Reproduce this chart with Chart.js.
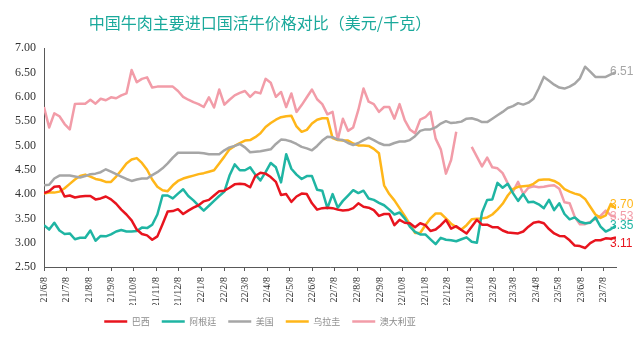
<!DOCTYPE html>
<html>
<head>
<meta charset="utf-8">
<script src="https://cdn.jsdelivr.net/npm/chart.js@4/dist/chart.umd.min.js"></script>
<style>
  html, body { margin: 0; padding: 0; background: #fff; }
  #wrap { width: 643px; height: 342px; }
</style>
</head>
<body>
<div id="wrap"><canvas id="myChart"></canvas></div>
<script>
// weekly live cattle prices, USD/kg, starting 2021-06-08
var monthLabels = ["21/6/8", "21/7/8", "21/8/8", "21/9/8", "21/10/8", "21/11/8", "21/12/8",
                   "22/1/8", "22/2/8", "22/3/8", "22/4/8", "22/5/8", "22/6/8", "22/7/8", "22/8/8",
                   "22/9/8", "22/10/8", "22/11/8", "22/12/8", "23/1/8", "23/2/8", "23/3/8",
                   "23/4/8", "23/5/8", "23/6/8", "23/7/8"];
var seriesNames = ["巴西", "阿根廷", "美国", "乌拉圭", "澳大利亚"];
var lineColors = ["#e8141e", "#1fb5a3", "#a6a6a6", "#ffb619", "#f29ca8"];

var brazil = [4.02,4.06,4.15,4.16,3.95,3.97,3.93,3.95,3.96,3.96,
  3.89,3.91,3.95,3.89,3.80,3.68,3.58,3.46,3.27,3.18,
  3.15,3.06,3.13,3.38,3.64,3.65,3.69,3.59,3.66,3.72,
  3.77,3.85,3.88,3.97,4.06,4.07,4.13,4.20,4.21,4.20,
  4.14,4.37,4.44,4.42,4.35,4.25,3.98,4.00,3.84,3.95,
  4.01,4.00,3.81,3.68,3.71,3.72,3.71,3.68,3.66,3.67,
  3.71,3.81,3.74,3.72,3.67,3.55,3.59,3.59,3.36,3.47,
  3.41,3.40,3.32,3.40,3.36,3.24,3.27,3.36,3.47,3.29,
  3.34,3.26,3.19,3.33,3.47,3.37,3.37,3.32,3.32,3.25,
  3.21,3.20,3.19,3.23,3.33,3.41,3.43,3.40,3.28,3.19,
  3.14,3.13,3.05,2.94,2.93,2.89,2.99,3.05,3.05,3.09,
  3.08,3.11];
var argentina = [3.36,3.27,3.41,3.25,3.18,3.19,3.07,3.10,3.10,3.25,
  3.04,3.14,3.13,3.17,3.23,3.26,3.23,3.23,3.24,3.31,
  3.30,3.37,3.58,3.97,3.97,3.91,4.01,4.10,3.96,3.87,
  3.76,3.66,3.76,3.86,3.96,4.05,4.38,4.61,4.49,4.49,
  4.55,4.40,4.28,4.45,4.64,4.55,4.24,4.82,4.52,4.40,
  4.31,4.37,4.37,4.09,4.07,3.71,4.00,3.72,3.86,3.97,
  4.08,4.02,4.07,3.91,3.88,3.82,3.77,3.68,3.58,3.62,
  3.50,3.33,3.22,3.17,3.17,3.07,2.97,3.10,3.06,3.05,
  3.03,3.07,3.11,3.02,3.00,3.62,3.88,3.89,4.23,4.13,
  4.21,4.02,3.86,4.00,3.83,3.84,3.79,3.71,3.88,3.67,
  3.81,3.59,3.48,3.52,3.43,3.40,3.41,3.52,3.33,3.23,
  3.28,3.35];
var usa = [4.18,4.19,4.32,4.38,4.38,4.38,4.36,4.34,4.37,4.41,
  4.42,4.45,4.51,4.46,4.41,4.36,4.31,4.27,4.30,4.32,
  4.32,4.39,4.45,4.53,4.63,4.75,4.85,4.85,4.85,4.85,
  4.85,4.84,4.82,4.82,4.82,4.90,4.96,4.99,5.03,4.96,
  4.86,4.87,4.88,4.90,4.92,5.03,5.12,5.11,5.08,5.03,
  4.97,4.94,4.90,4.99,5.10,5.18,5.17,5.12,5.11,5.05,
  5.01,5.05,5.11,5.16,5.11,5.05,5.01,5.01,5.05,5.08,
  5.08,5.11,5.19,5.30,5.33,5.33,5.37,5.45,5.50,5.46,
  5.47,5.49,5.55,5.56,5.53,5.48,5.48,5.55,5.62,5.69,
  5.77,5.81,5.87,5.84,5.88,5.96,6.17,6.41,6.33,6.25,
  6.19,6.17,6.21,6.27,6.38,6.62,6.52,6.41,6.41,6.41,
  6.46,6.51];
var uruguay = [4.01,4.03,4.03,4.05,4.12,4.21,4.30,4.37,4.40,4.36,
  4.31,4.29,4.25,4.25,4.36,4.49,4.63,4.71,4.74,4.64,
  4.50,4.30,4.15,4.08,4.06,4.18,4.27,4.32,4.35,4.38,
  4.41,4.43,4.46,4.49,4.63,4.77,4.92,4.99,5.05,5.10,
  5.11,5.17,5.25,5.38,5.46,5.53,5.58,5.60,5.61,5.39,
  5.28,5.32,5.45,5.53,5.56,5.56,5.15,5.11,5.10,5.10,
  5.04,5.00,5.00,4.99,4.93,4.84,4.18,4.00,3.87,3.71,
  3.55,3.38,3.20,3.20,3.36,3.50,3.60,3.60,3.50,3.39,
  3.32,3.27,3.36,3.48,3.49,3.50,3.52,3.58,3.68,3.80,
  3.97,4.10,4.15,4.16,4.17,4.21,4.29,4.30,4.30,4.27,
  4.21,4.10,4.05,4.01,3.98,3.90,3.74,3.58,3.51,3.56,
  3.80,3.70];
var australia = [5.79,5.37,5.66,5.60,5.44,5.33,5.85,5.86,5.86,5.94,
  5.86,5.96,5.93,5.99,5.97,6.03,6.07,6.55,6.30,6.37,
  6.40,6.19,6.21,6.21,6.21,6.21,6.12,6.00,5.94,5.89,
  5.85,5.79,5.99,5.78,6.15,5.84,5.94,6.03,6.08,6.12,
  6.00,6.10,6.07,6.37,6.29,6.00,6.10,5.79,6.07,5.69,
  5.83,5.99,6.15,5.95,5.85,5.64,5.69,5.12,5.55,5.30,
  5.37,5.73,6.17,5.90,5.85,5.69,5.79,5.79,5.55,5.85,
  5.52,5.33,5.25,5.53,5.58,5.69,5.14,4.92,4.42,4.70,
  5.28,null,null,4.97,4.77,4.57,4.75,4.55,4.53,4.43,
  4.22,4.05,4.25,4.00,4.13,4.16,4.14,4.15,4.17,4.18,
  4.11,3.83,3.81,3.53,3.38,3.38,3.43,3.49,3.55,3.66,
  3.56,3.53];

var seriesData = [brazil, argentina, usa, uruguay, australia];

// x positions in days from the first week
var t0 = Date.UTC(2021, 5, 8);
var weekDays = brazil.map((v, i) => i * 7);
var monthDays = monthLabels.map(s => {
  var p = s.split("/").map(Number);
  return (Date.UTC(2000 + p[0], p[1] - 1, p[2]) - t0) / 864e5;
});

// vertical nudge of the end-of-line value labels so they don't collide
var endLabelNudge = [6, 0, 0, -4, 0];

var endLabels = {
  id: "endLabels",
  afterDatasetsDraw(chart) {
    var ctx = chart.ctx;
    ctx.save();
    ctx.font = '12px "Liberation Sans", Arial, sans-serif';
    ctx.textBaseline = "middle";
    ctx.textAlign = "left";
    chart.data.datasets.forEach((ds, i) => {
      var pts = chart.getDatasetMeta(i).data;
      var last = pts[pts.length - 1];
      ctx.fillStyle = ds.borderColor;
      ctx.fillText(ds.data[ds.data.length - 1].toFixed(2), last.x - 6, last.y + endLabelNudge[i]);
    });
    ctx.restore();
  }
};

// title and legend sit left of the canvas centre
var shiftBlocks = {
  id: "shiftBlocks",
  afterLayout(chart) {
    [chart.titleBlock, chart.legend].forEach(b => {
      if (b) { b.left -= 48; b.right -= 48; }
    });
  }
};

new Chart("myChart", {
  type: "line",
  data: {
    labels: weekDays,
    datasets: seriesNames.map((name, i) => ({
      label: name,
      data: seriesData[i],
      borderColor: lineColors[i],
      backgroundColor: lineColors[i],
      borderWidth: 2.5,
      pointRadius: 0,
      tension: 0,
      borderJoinStyle: "round",
      spanGaps: false
    }))
  },
  options: {
    responsive: true,
    maintainAspectRatio: false,
    animation: false,
    devicePixelRatio: 1,
    layout: { padding: { left: 0, right: 27, top: 0, bottom: 6 } },
    plugins: {
      title: {
        display: true,
        text: "中国牛肉主要进口国活牛价格对比（美元/千克）",
        color: "#1aa99b",
        font: { family: "'Noto Sans CJK SC'", size: 16, weight: "normal" },
        padding: { top: 13, bottom: 16 }
      },
      legend: {
        position: "bottom",
        labels: {
          usePointStyle: true,
          pointStyle: "line",
          pointStyleWidth: 23,
          color: "#8c8c8c",
          font: { family: "'Noto Sans CJK SC'", size: 9 },
          padding: 12
        }
      },
      tooltip: { enabled: false }
    },
    scales: {
      x: {
        type: "linear",
        min: 0,
        max: weekDays[weekDays.length - 1],
        afterFit: s => { s.height = 38; },
        afterBuildTicks: s => { s.ticks = monthDays.map(v => ({ value: v })); },
        ticks: {
          autoSkip: false,
          maxRotation: 90,
          minRotation: 90,
          padding: 6,
          color: "#333",
          font: { family: "'Liberation Serif'", size: 10 },
          callback: (v, i) => monthLabels[i]
        },
        grid: { drawOnChartArea: false, drawTicks: true, tickLength: 4, color: "#595959" },
        border: { display: true, color: "#595959", width: 1 }
      },
      y: {
        min: 2.5,
        max: 7,
        afterFit: s => { s.width = 44; },
        ticks: {
          stepSize: 0.5,
          padding: 8,
          color: "#333",
          font: { family: "'Liberation Serif'", size: 12 },
          callback: v => v.toFixed(2)
        },
        grid: { display: true, drawOnChartArea: false, drawTicks: false },
        border: { display: true, color: "#595959", width: 1 }
      }
    }
  },
  plugins: [endLabels, shiftBlocks]
});
</script>
</body>
</html>
